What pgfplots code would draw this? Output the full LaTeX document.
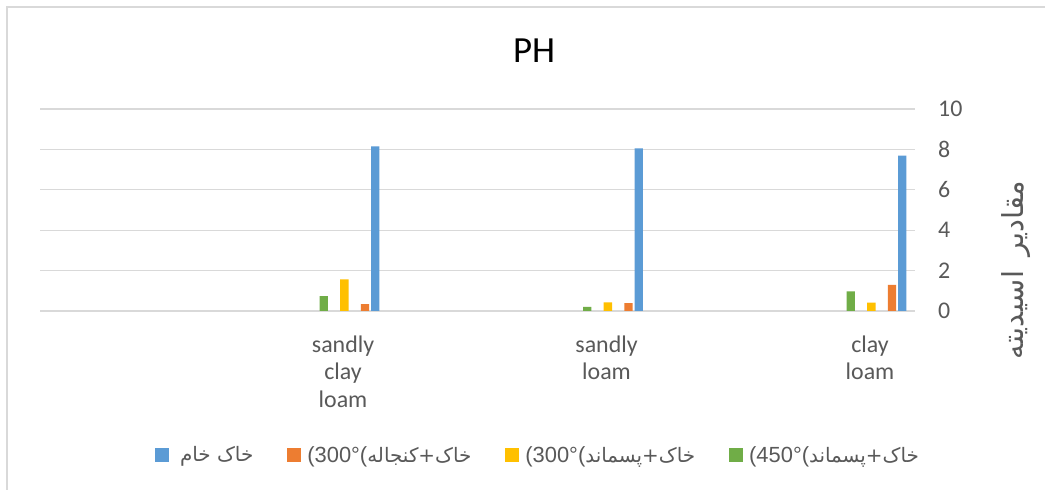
\documentclass[border=0pt]{standalone}
\usepackage{fontspec}
\setmainfont{Carlito}
\newfontfamily\arabicfont[Script=Arabic]{DejaVu Sans}
\newfontfamily\lsans{Liberation Sans}
\usepackage{pgfplots}
\pgfplotsset{compat=1.18}
\TeXXeTstate=1
\definecolor{cblue}{HTML}{5B9BD5}
\definecolor{corange}{HTML}{ED7D31}
\definecolor{cyellow}{HTML}{FFC000}
\definecolor{cgreen}{HTML}{70AD47}
\definecolor{txtgray}{HTML}{595959}
\definecolor{gridgray}{HTML}{D9D9D9}
\pgfplotsset{sq/.style={legend image code/.code={\fill[##1] (0bp,-7bp) rectangle (14bp,7bp);}}}
\newcommand{\ar}{\arabicfont\fontsize{20}{25}\selectfont}
\begin{document}
\begin{tikzpicture}[x=1bp,y=1bp]
\useasboundingbox (0,0) rectangle (1045,490);
\fill[white] (0,0) rectangle (1045,490);
\draw[gridgray, line width=1.5bp] (7,-5) -- (7,483) -- (1050,483);
\begin{axis}[
  at={(40bp,179bp)}, anchor=south west,
  scale only axis, width=875bp, height=202bp,
  xmin=-1.1746, xmax=2.146, ymin=0, ymax=10,
  axis line style={draw=none}, tick style={draw=none},
  ytick={0,2,4,6,8,10}, yticklabel pos=right,
  /pgf/number format/assume math mode=true,
  yticklabel style={anchor=west, inner sep=0pt, xshift=23bp, font=\fontsize{24}{28}\selectfont, text=txtgray},
  xtick={0,1,2},
  xticklabels={{sandly\\clay\\loam},{sandly\\loam},{clay\\loam}},
  xticklabel style={align=center, anchor=north, inner sep=0pt, yshift=-20bp, xshift=-6.5bp, font=\fontsize{24}{28}\selectfont, text=txtgray},
  ymajorgrids, grid style={gridgray, line width=1.3bp},
  ybar, bar width=8.3bp,
  legend columns=4,
  legend style={at={(0.568,-0.713)}, anchor=center, draw=none, fill=none,
    font=\lsans\fontsize{22}{25}\selectfont, text=txtgray, inner sep=0pt,
    nodes={inner sep=0pt}, cells={anchor=west},
    /tikz/every odd column/.append style={column sep=6bp},
    /tikz/every even column/.append style={column sep=34bp}},
]
\addplot[sq, fill=cblue, draw=none, bar shift=25.75bp] coordinates {(0,8.15) (1,8.05) (2,7.69)};
\addplot[sq, fill=corange, draw=none, bar shift=15.45bp] coordinates {(0,0.34) (1,0.39) (2,1.29)};
\addplot[sq, fill=cyellow, draw=none, bar shift=-5.15bp] coordinates {(0,1.56) (1,0.43) (2,0.41)};
\addplot[sq, fill=cgreen, draw=none, bar shift=-25.75bp] coordinates {(0,0.74) (1,0.21) (2,0.97)};
\legend{{\hspace{5bp}\ar\beginR خاک خام\endR},
  {(300°(\ar\beginR خاک+کنجاله\endR},
  {(300°(\ar\beginR خاک+پسماند\endR},
  {(450°(\ar\beginR خاک+پسماند\endR}}
\end{axis}
\node[anchor=base, font=\fontsize{37}{44}\selectfont, text=black] at (534,427) {PH};
\node[rotate=90, font=\arabicfont\fontsize{29}{34}\selectfont, text=txtgray] at (1016,220) {\beginR مقادیر\hspace{0.5em}اسیدیته\endR};
\end{tikzpicture}
\end{document}
